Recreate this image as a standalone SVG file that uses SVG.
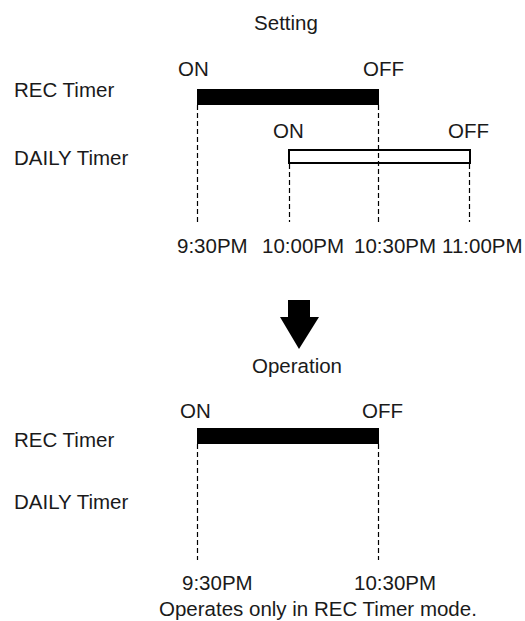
<svg xmlns="http://www.w3.org/2000/svg" width="525" height="621" viewBox="0 0 525 621">
<style>
text{font-family:"Liberation Sans",Arial,sans-serif;font-size:20.5px;fill:#1a1a1a}
.dash{stroke:#000;stroke-width:1.2;stroke-dasharray:5 3;fill:none}
.bar{fill:#000}
.open{fill:#fff;stroke:#000;stroke-width:2}
</style>
<rect width="525" height="621" fill="#fff"/>
<g id="title-setting"><text x="286" y="30" text-anchor="middle">Setting</text></g>
<g id="label-rec-1"><text x="14" y="97">REC Timer</text></g>
<g id="label-daily-1"><text x="14" y="165">DAILY Timer</text></g>
<g id="rec-bar-1">
<rect class="bar" x="197" y="89" width="182" height="16"/>
<text x="178" y="76">ON</text>
<text x="363" y="76">OFF</text>
</g>
<g id="daily-bar-1">
<rect class="open" x="289" y="150" width="181" height="13"/>
<text x="273" y="138">ON</text>
<text x="448" y="138">OFF</text>
</g>
<g id="times-1">
<text x="177" y="253">9:30PM</text>
<text x="262" y="253">10:00PM</text>
<text x="354" y="253">10:30PM</text>
<text x="442" y="253">11:00PM</text>
</g>
<g id="arrow"><polygon points="288,300 310,300 310,317 319,317 299,349 280,317 288,317" fill="#000"/></g>
<g id="title-operation"><text x="297" y="373" text-anchor="middle">Operation</text></g>
<g id="label-rec-2"><text x="14" y="447">REC Timer</text></g>
<g id="label-daily-2"><text x="14" y="509">DAILY Timer</text></g>
<g id="rec-bar-2">
<rect class="bar" x="197" y="428" width="182" height="16"/>
<text x="180" y="418">ON</text>
<text x="362" y="418">OFF</text>
</g>
<g id="times-2">
<text x="182" y="590">9:30PM</text>
<text x="354" y="590">10:30PM</text>
</g>
<g id="note"><text x="159" y="616">Operates only in REC Timer mode.</text></g>
<g id="connectors">
<line class="dash" x1="197.5" y1="105" x2="197.5" y2="222"/>
<line class="dash" x1="378.5" y1="105" x2="378.5" y2="222"/>
<line class="dash" x1="289.5" y1="164" x2="289.5" y2="222"/>
<line class="dash" x1="469.5" y1="164" x2="469.5" y2="222"/>
<line class="dash" x1="197.5" y1="444" x2="197.5" y2="560"/>
<line class="dash" x1="378.5" y1="444" x2="378.5" y2="560"/>
</g>
</svg>
